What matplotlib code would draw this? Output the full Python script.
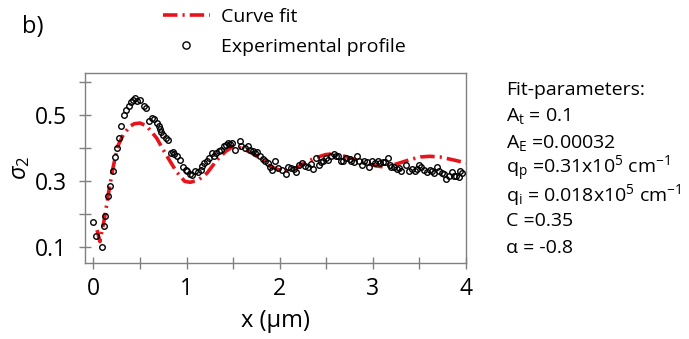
import matplotlib
matplotlib.use("Agg")
import matplotlib.pyplot as plt
from matplotlib.ticker import MultipleLocator

plt.rcParams['font.family'] = ['Open Sans', 'DejaVu Sans']
plt.rcParams['mathtext.fontset'] = 'custom'
plt.rcParams['mathtext.rm'] = 'Open Sans'
plt.rcParams['mathtext.it'] = 'Open Sans:italic'

# experimental profile
exp_x = [0.00, 0.03, 0.09, 0.11, 0.13, 0.16, 0.18, 0.21, 0.23, 0.25, 0.28, 0.30, 0.33, 0.35,
         0.38, 0.40, 0.43, 0.45, 0.47, 0.50, 0.54, 0.57, 0.60, 0.63, 0.65, 0.68, 0.70, 0.72,
         0.73, 0.75, 0.78, 0.80, 0.83, 0.85, 0.87, 0.90, 0.93, 0.96, 0.99, 1.01, 1.04, 1.06,
         1.09, 1.12, 1.15, 1.17, 1.19, 1.22, 1.24, 1.27, 1.30, 1.32, 1.35, 1.37, 1.40, 1.42,
         1.44, 1.47, 1.49, 1.52, 1.57, 1.59, 1.63, 1.66, 1.68, 1.71, 1.74, 1.76, 1.79, 1.82,
         1.84, 1.87, 1.90, 1.92, 1.95, 1.98, 2.02, 2.07, 2.09, 2.12, 2.15, 2.18, 2.21, 2.24,
         2.27, 2.30, 2.34, 2.36, 2.39, 2.42, 2.44, 2.47, 2.50, 2.52, 2.55, 2.58, 2.60, 2.63,
         2.66, 2.68, 2.71, 2.75, 2.77, 2.80, 2.83, 2.85, 2.88, 2.91, 2.94, 2.96, 2.99, 3.02,
         3.05, 3.08, 3.11, 3.13, 3.16, 3.18, 3.20, 3.23, 3.26, 3.28, 3.30, 3.36, 3.39, 3.42,
         3.45, 3.47, 3.50, 3.52, 3.55, 3.58, 3.61, 3.63, 3.66, 3.69, 3.71, 3.74, 3.76, 3.79,
         3.82, 3.85, 3.87, 3.89, 3.92, 3.94, 3.96]
exp_y = [0.175, 0.131, 0.098, 0.162, 0.192, 0.252, 0.283, 0.328, 0.371, 0.400, 0.429, 0.466,
         0.500, 0.515, 0.528, 0.538, 0.545, 0.552, 0.542, 0.545, 0.528, 0.522, 0.482, 0.490,
         0.486, 0.475, 0.465, 0.458, 0.448, 0.439, 0.431, 0.424, 0.384, 0.386, 0.381, 0.374,
         0.362, 0.343, 0.333, 0.328, 0.321, 0.318, 0.328, 0.326, 0.333, 0.346, 0.354, 0.361,
         0.369, 0.384, 0.374, 0.384, 0.389, 0.394, 0.406, 0.409, 0.414, 0.412, 0.414, 0.394,
         0.422, 0.404, 0.399, 0.406, 0.394, 0.389, 0.384, 0.386, 0.374, 0.366, 0.359, 0.354,
         0.343, 0.333, 0.359, 0.340, 0.331, 0.321, 0.343, 0.338, 0.335, 0.325, 0.348, 0.354,
         0.345, 0.343, 0.350, 0.335, 0.369, 0.348, 0.356, 0.361, 0.369, 0.364, 0.376, 0.382,
         0.374, 0.376, 0.361, 0.361, 0.369, 0.366, 0.361, 0.356, 0.374, 0.359, 0.348, 0.361,
         0.356, 0.341, 0.361, 0.354, 0.359, 0.354, 0.356, 0.356, 0.369, 0.348, 0.341, 0.341,
         0.335, 0.338, 0.328, 0.348, 0.328, 0.335, 0.328, 0.335, 0.348, 0.343, 0.331, 0.325,
         0.333, 0.328, 0.323, 0.341, 0.328, 0.323, 0.321, 0.305, 0.313, 0.325, 0.315, 0.313,
         0.311, 0.328, 0.323]

# curve fit
fit_x = [0.04, 0.07, 0.12, 0.16, 0.21, 0.26, 0.32, 0.39, 0.44, 0.50, 0.55, 0.59, 0.68, 0.78,
         0.89, 0.98, 1.04, 1.13, 1.22, 1.33, 1.42, 1.50, 1.59, 1.70, 1.81, 1.90, 1.99, 2.06,
         2.17, 2.27, 2.38, 2.49, 2.58, 2.70, 2.81, 2.92, 3.03, 3.11, 3.18, 3.29, 3.40, 3.51,
         3.61, 3.72, 3.85, 4.00]
fit_y = [0.150, 0.115, 0.187, 0.258, 0.338, 0.404, 0.439, 0.465, 0.473, 0.475, 0.469, 0.460,
         0.429, 0.379, 0.328, 0.298, 0.295, 0.303, 0.323, 0.364, 0.389, 0.404, 0.399, 0.384,
         0.364, 0.343, 0.333, 0.328, 0.338, 0.354, 0.369, 0.379, 0.382, 0.374, 0.364, 0.354,
         0.345, 0.342, 0.345, 0.354, 0.364, 0.372, 0.374, 0.372, 0.364, 0.354]

params = ['Fit-parameters:',
          r'A$_\mathregular{t}$ = 0.1',
          r'A$_\mathregular{E}$ =0.00032',
          r'q$_\mathregular{p}$ =0.31x10$^\mathregular{5}$ cm$^\mathregular{-1}$',
          r'q$_\mathregular{i}$ = 0.018x10$^\mathregular{5}$ cm$^\mathregular{-1}$',
          'C =0.35',
          'α = -0.8']

fig = plt.figure(figsize=(6.89, 3.39), dpi=100)
ax = fig.add_axes([85/689, 1-263/339, 381/689, 190/339])

fit_line, = ax.plot(fit_x, fit_y, color='#e8141b', lw=2.6, linestyle=(0, (4, 1.4, 0.6, 1.4)),
                    label='Curve fit', zorder=2)
exp_pts, = ax.plot(exp_x, exp_y, 'o', ms=4, mfc='none', mec='black', mew=1.0,
                   label='Experimental profile', zorder=3)

ax.set_xlim(-0.09, 4.0)
ax.set_ylim(0.05, 0.627)
ax.xaxis.set_major_locator(MultipleLocator(1))
ax.xaxis.set_minor_locator(MultipleLocator(0.5))
ax.set_yticks([0.1, 0.3, 0.5])
ax.set_yticks([0.2, 0.4, 0.6], minor=True)
ax.tick_params(which='both', direction='inout', length=8, width=1, color='#808080',
               labelsize=16.5, labelcolor='black')
ax.tick_params(axis='y', pad=9)
ax.tick_params(axis='x', pad=6)
for s in ax.spines.values():
    s.set_color('#808080')
    s.set_linewidth(1)

ax.set_xlabel('x (μm)', fontsize=17, labelpad=6)
ax.set_ylabel(r'$\sigma_2$', fontsize=17, labelpad=2)

fig.legend(handles=[fit_line, exp_pts], loc='upper left', bbox_to_anchor=(163/689, 1-8/339),
           frameon=False, fontsize=14, handlelength=2.4, handletextpad=0.6,
           labelspacing=0.6, borderpad=0, borderaxespad=0, markerscale=1.3)

fig.text(22/689, 1-15/339, 'b)', fontsize=17, va='top')
for i, line in enumerate(params):
    fig.text(506/689, 1-(90 + 26.3*i)/339, line, fontsize=14, va='center')

fig.savefig('out.png', dpi=100)
